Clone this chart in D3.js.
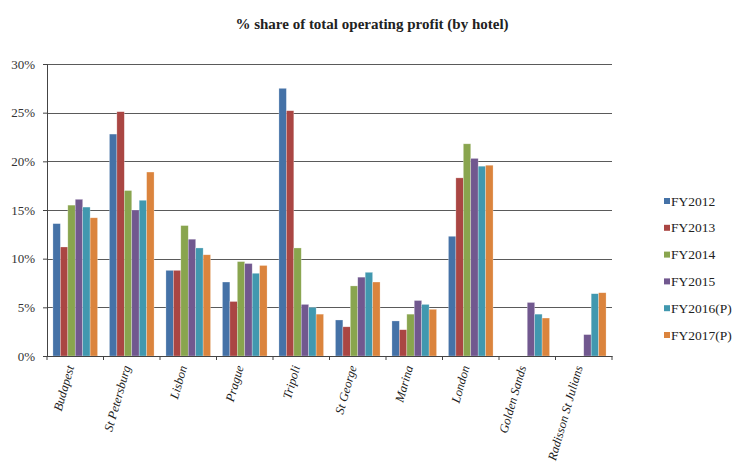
<!DOCTYPE html>
<html>
<head>
<meta charset="utf-8">
<script src="https://cdn.jsdelivr.net/npm/d3@7"></script>
<style>
  body { margin: 0; background: #fff; }
  #chart { width: 732px; height: 464px; }
  svg text { font-family: "Liberation Serif", "Times New Roman", "DejaVu Serif", serif; }
</style>
</head>
<body>
<div id="chart"></div>
<script>
// hotels on the x axis
const hotels = ["Budapest", "St Petersburg", "Lisbon", "Prague", "Tripoli", "St George",
  "Marina", "London", "Golden Sands", "Radisson St Julians"];

// series names
const years = ["FY2012", "FY2013", "FY2014", "FY2015", "FY2016(P)", "FY2017(P)"];

// % share per hotel (null = no bar)
const fy2012 = [13.6, 22.8, 8.8, 7.6, 27.5, 3.7, 3.6, 12.3, null, null];
const fy2013 = [11.2, 25.1, 8.8, 5.6, 25.2, 3.0, 2.7, 18.3, null, null];
const fy2014 = [15.5, 17.0, 13.4, 9.7, 11.1, 7.2, 4.3, 21.8, null, null];
const fy2015 = [16.1, 15.0, 12.0, 9.5, 5.3, 8.1, 5.7, 20.3, 5.5, 2.2];
const fy2016 = [15.3, 16.0, 11.1, 8.5, 5.0, 8.6, 5.3, 19.5, 4.3, 6.4];
const fy2017 = [14.2, 18.9, 10.4, 9.3, 4.3, 7.6, 4.8, 19.6, 3.9, 6.5];

const yTicks = [0, 5, 10, 15, 20, 25, 30];

const colors = ["#4572A7", "#AA4643", "#89A54E", "#71588F", "#4198AF", "#DB843D"];

const seriesValues = [fy2012, fy2013, fy2014, fy2015, fy2016, fy2017];

const width = 732, height = 464;
const margin = { top: 64, right: 120, bottom: 108, left: 47 };
const innerWidth = width - margin.left - margin.right;
const innerHeight = height - margin.top - margin.bottom;

const svg = d3.select("#chart").append("svg")
    .attr("width", width)
    .attr("height", height);

// title
svg.append("text")
    .attr("x", 372)
    .attr("y", 29)
    .attr("text-anchor", "middle")
    .style("font-size", "15px")
    .style("font-weight", "bold")
    .attr("fill", "#222")
    .text("% share of total operating profit (by hotel)");

const g = svg.append("g").attr("transform", `translate(${margin.left},${margin.top})`);

const x0 = d3.scaleBand().domain(hotels).range([0, innerWidth]).padding(0);
const gap = x0.step() * 0.105;
const x1 = d3.scaleBand().domain(years).range([gap, x0.bandwidth() - gap]).padding(0);
const y = d3.scaleLinear().domain([0, 30]).range([innerHeight, 0]);

// gridlines
g.append("g")
    .selectAll("line")
    .data(yTicks)
    .enter().append("line")
    .attr("x1", 0)
    .attr("x2", innerWidth)
    .attr("y1", d => Math.round(y(d)) + 0.5)
    .attr("y2", d => Math.round(y(d)) + 0.5)
    .attr("stroke", "#5a5a5a")
    .attr("stroke-width", 1.2);

// y axis
const yAxis = g.append("g")
    .call(d3.axisLeft(y).tickValues(yTicks).tickFormat(d => d + "%").tickSize(4).tickPadding(8));
yAxis.select(".domain").attr("stroke", "#444");
yAxis.selectAll(".tick line").attr("stroke", "#444");
yAxis.selectAll("text")
    .style("font-size", "13px")
    .attr("fill", "#333");

// bars
const groups = g.append("g")
    .selectAll("g")
    .data(hotels)
    .enter().append("g")
    .attr("transform", d => `translate(${x0(d)},0)`);

groups.selectAll("rect")
    .data((h, i) => years.map((yr, j) => ({ year: yr, value: seriesValues[j][i], color: colors[j] })))
    .enter()
    .filter(d => d.value != null)
    .append("rect")
    .attr("x", d => x1(d.year))
    .attr("y", d => y(d.value))
    .attr("width", x1.bandwidth())
    .attr("height", d => y(0) - y(d.value))
    .attr("fill", d => d.color)
    .attr("stroke", "rgba(255,255,255,0.45)")
    .attr("stroke-width", 0.6);

// x axis
const xAxis = g.append("g")
    .attr("transform", `translate(0,${innerHeight})`)
    .call(d3.axisBottom(x0).tickSize(0).tickFormat(""));
xAxis.select(".domain").attr("stroke", "#444");

// tick marks on band boundaries
g.append("g")
    .selectAll("line")
    .data(d3.range(hotels.length + 1))
    .enter().append("line")
    .attr("x1", i => i * x0.step())
    .attr("x2", i => i * x0.step())
    .attr("y1", innerHeight)
    .attr("y2", innerHeight + 4)
    .attr("stroke", "#444");

// rotated hotel labels
g.append("g")
    .selectAll("text")
    .data(hotels)
    .enter().append("text")
    .attr("transform", d => `translate(${x0(d) + x0.bandwidth() / 2 - 1},${innerHeight + 11}) rotate(-74)`)
    .attr("text-anchor", "end")
    .style("font-size", "12.5px")
    .style("font-style", "italic")
    .attr("fill", "#222")
    .text(d => d);

// legend
const legend = svg.append("g")
    .attr("transform", "translate(664,201)");

const item = legend.selectAll("g")
    .data(years)
    .enter().append("g")
    .attr("transform", (d, i) => `translate(0,${i * 26.8})`);

item.append("rect")
    .attr("x", 0)
    .attr("y", -3)
    .attr("width", 6)
    .attr("height", 6)
    .attr("fill", (d, i) => colors[i]);

item.append("text")
    .attr("x", 7)
    .attr("y", 4.5)
    .style("font-size", "13.5px")
    .attr("fill", "#222")
    .text(d => d);
</script>
</body>
</html>
